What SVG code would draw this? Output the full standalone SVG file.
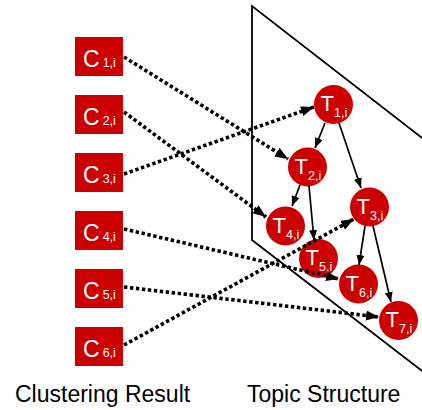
<svg xmlns="http://www.w3.org/2000/svg" width="422" height="410" viewBox="0 0 422 410">
<defs>
<style>
.box{fill:#CC0000;}
.circ{fill:#CC0000;}
.cl{font-family:"Liberation Sans",Arial,sans-serif;fill:#fff;font-size:23px;}
.tl{font-family:"Liberation Sans",Arial,sans-serif;fill:#fff;font-size:22px;}
.sub{font-size:12.5px;}
.cap{font-family:"Liberation Sans",Arial,sans-serif;fill:#000;font-size:23px;}
.dot{stroke:#000;stroke-width:3.6;stroke-dasharray:3.4 2.6;fill:none;}
.sol{stroke:#000;stroke-width:1.7;fill:none;}
.plane{stroke:#000;stroke-width:1.8;fill:none;}
</style>
<marker id="ad" markerUnits="userSpaceOnUse" markerWidth="14" markerHeight="12" refX="13" refY="5" orient="auto">
<path d="M0,0 L13,5 L0,10 Z" fill="#000"/>
</marker>
<marker id="as" markerUnits="userSpaceOnUse" markerWidth="12" markerHeight="10" refX="10" refY="4" orient="auto">
<path d="M0,0 L10,4 L0,8 Z" fill="#000"/>
</marker>
</defs>
<rect width="422" height="410" fill="#fff"/>
<polyline class="plane" points="430,144 252,6 252,240 430,377"/>
<g id="C1"><rect class="box" x="75" y="37" width="48" height="39"/><text class="cl" x="83" y="67">C<tspan class="sub" dx="3">1,i</tspan></text></g>
<g id="C2"><rect class="box" x="75" y="95" width="48" height="39"/><text class="cl" x="83" y="125">C<tspan class="sub" dx="3">2,i</tspan></text></g>
<g id="C3"><rect class="box" x="75" y="153" width="48" height="39"/><text class="cl" x="83" y="183">C<tspan class="sub" dx="3">3,i</tspan></text></g>
<g id="C4"><rect class="box" x="75" y="211" width="48" height="39"/><text class="cl" x="83" y="241">C<tspan class="sub" dx="3">4,i</tspan></text></g>
<g id="C5"><rect class="box" x="75" y="269" width="48" height="39"/><text class="cl" x="83" y="299">C<tspan class="sub" dx="3">5,i</tspan></text></g>
<g id="C6"><rect class="box" x="75" y="327" width="48" height="39"/><text class="cl" x="83" y="357">C<tspan class="sub" dx="3">6,i</tspan></text></g>
<g id="T1"><circle class="circ" cx="333.5" cy="104.5" r="19.5"/><text class="tl" x="320.5" y="111">T<tspan class="sub" dy="6">1,i</tspan></text></g>
<g id="T2"><circle class="circ" cx="307.5" cy="167" r="19.5"/><text class="tl" x="294.5" y="173.5">T<tspan class="sub" dy="6">2,i</tspan></text></g>
<g id="T3"><circle class="circ" cx="369.5" cy="207" r="19.5"/><text class="tl" x="356.5" y="213.5">T<tspan class="sub" dy="6">3,i</tspan></text></g>
<g id="T4"><circle class="circ" cx="285.5" cy="226" r="19.5"/><text class="tl" x="272.5" y="232.5">T<tspan class="sub" dy="6">4,i</tspan></text></g>
<g id="T5"><circle class="circ" cx="318.5" cy="258.5" r="19.5"/><text class="tl" x="305.5" y="265">T<tspan class="sub" dy="6">5,i</tspan></text></g>
<g id="T6"><circle class="circ" cx="358.5" cy="284" r="19.5"/><text class="tl" x="345.5" y="290.5">T<tspan class="sub" dy="6">6,i</tspan></text></g>
<g id="T7"><circle class="circ" cx="398.5" cy="320.5" r="19.5"/><text class="tl" x="385.5" y="327">T<tspan class="sub" dy="6">7,i</tspan></text></g>
<g id="connectors">
<line class="dot" x1="124" y1="57" x2="288" y2="159" marker-end="url(#ad)"/>
<line class="dot" x1="124" y1="112" x2="266" y2="217" marker-end="url(#ad)"/>
<line class="dot" x1="124" y1="174" x2="314" y2="107" marker-end="url(#ad)"/>
<line class="dot" x1="124" y1="229" x2="339" y2="279" marker-end="url(#ad)"/>
<line class="dot" x1="124" y1="287" x2="379" y2="317" marker-end="url(#ad)"/>
<line class="dot" x1="124" y1="345" x2="354" y2="219" marker-end="url(#ad)"/>
<line class="sol" x1="325" y1="123" x2="315" y2="148" marker-end="url(#as)"/>
<line class="sol" x1="339" y1="123" x2="361" y2="188" marker-end="url(#as)"/>
<line class="sol" x1="300" y1="185" x2="292" y2="206" marker-end="url(#as)"/>
<line class="sol" x1="309" y1="186" x2="314" y2="240" marker-end="url(#as)"/>
<line class="sol" x1="365" y1="226" x2="359" y2="265" marker-end="url(#as)"/>
<line class="sol" x1="373" y1="226" x2="391" y2="302" marker-end="url(#as)"/>
</g>
<text class="cap" x="15" y="402">Clustering Result</text>
<text class="cap" x="247" y="402">Topic Structure</text>
</svg>
